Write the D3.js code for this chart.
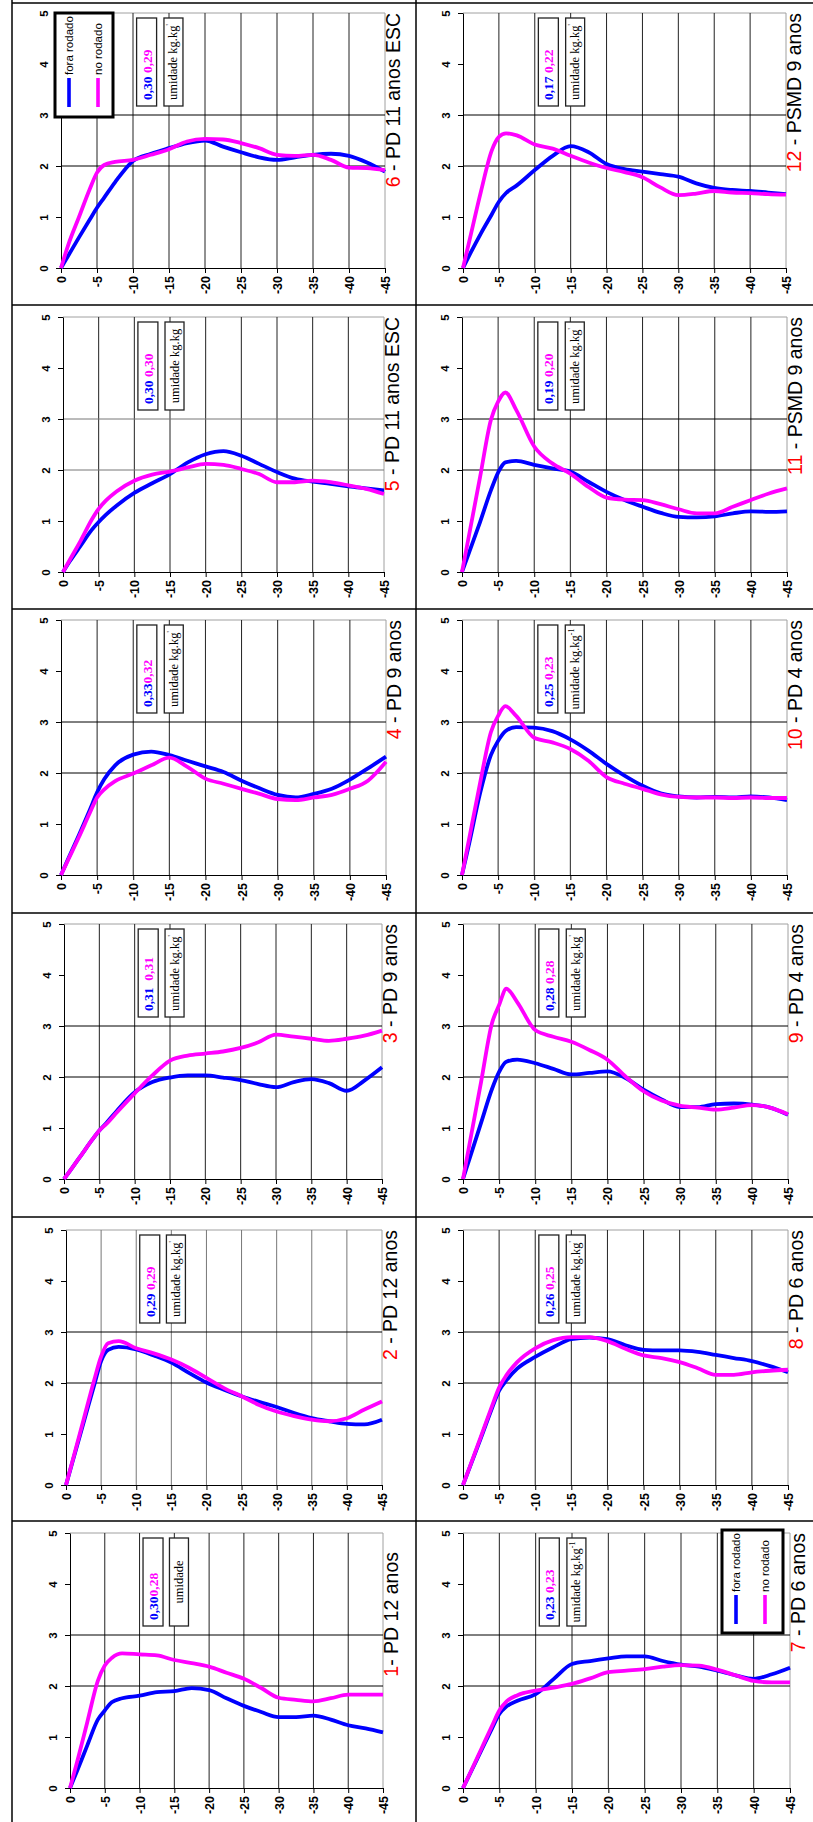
<!DOCTYPE html>
<html><head><meta charset="utf-8">
<script src="https://cdn.jsdelivr.net/npm/d3@7"></script>
<style>body{margin:0;background:#fff}svg{display:block}</style>
</head><body><svg id="c" width="813" height="1822"></svg>
<script>
// ---------- DATA ----------
const depths = [0,-1,-2.5,-4,-5,-6,-7.5,-10,-12.5,-15,-17.5,-20,-22.5,-25,-27.5,-30,-32.5,-35,-37.5,-40,-42.5,-45];
const depthTicks = [0,-5,-10,-15,-20,-25,-30,-35,-40,-45];
const depthTickLabels = ["0","-5","-10","-15","-20","-25","-30","-35","-40","-45"];
const valueTicks = [0,1,2,3,4,5];
const valueTickLabels = ["0","1","2","3","4","5"];
const legendLabels = ["fora rodado","no rodado"];

const panelNumbers = ["1","2","3","4","5","6","7","8","9","10","11","12"];
const panelNames = ["- PD 12 anos"," - PD 12 anos"," - PD 9 anos"," - PD 9 anos"," - PD 11 anos ESC"," - PD 11 anos ESC",
                    " - PD 6 anos"," - PD 6 anos"," - PD 4 anos"," - PD 4 anos"," - PSMD 9 anos"," - PSMD 9 anos"];
const moistFora = ["0,30","0,29","0,31","0,33","0,30","0,30","0,23","0,26","0,28","0,25","0,19","0,17"];
const moistNo   = ["0,28","0,29","0,31","0,32","0,30","0,29","0,23","0,25","0,28","0,23","0,20","0,22"];
const moistSep  = [""," ","  ",""," "," "," "," "," "," "," "," "];
const unitMain  = ["umidade","umidade kg.kg","umidade kg.kg","umidade kg.kg","umidade kg.kg","umidade kg.kg",
                   "umidade kg.kg","umidade kg.kg","umidade kg.kg","umidade kg.kg","umidade kg.kg","umidade kg.kg"];
const unitSup   = ["","'","'","'","","'","-1","'","'","-1","'","'"];

// series: fora rodado (blue) and no rodado (magenta), one value per depth
const fora1 = [0,0.33,0.84,1.34,1.52,1.68,1.76,1.81,1.88,1.9,1.96,1.92,1.76,1.61,1.49,1.39,1.39,1.42,1.34,1.23,1.17,1.09];
const no1   = [0,0.5,1.3,2.1,2.4,2.55,2.64,2.62,2.6,2.51,2.45,2.38,2.26,2.14,1.96,1.77,1.73,1.7,1.76,1.83,1.83,1.83];
const fora2 = [0,0.49,1.22,1.95,2.43,2.65,2.71,2.66,2.54,2.4,2.2,2.01,1.87,1.74,1.63,1.53,1.41,1.31,1.25,1.2,1.19,1.28];
const no2   = [0,0.51,1.28,2.05,2.52,2.78,2.82,2.68,2.58,2.46,2.3,2.1,1.9,1.74,1.57,1.44,1.35,1.28,1.25,1.31,1.48,1.64];
const fora3 = [0,0.19,0.48,0.77,0.95,1.1,1.34,1.7,1.9,1.99,2.03,2.03,1.99,1.94,1.86,1.8,1.9,1.96,1.88,1.73,1.93,2.19];
const no3   = [0,0.19,0.48,0.77,0.95,1.08,1.31,1.68,2.03,2.32,2.42,2.46,2.5,2.57,2.68,2.83,2.79,2.75,2.71,2.75,2.81,2.91];
const fora4 = [0,0.32,0.79,1.28,1.62,1.88,2.15,2.36,2.42,2.35,2.24,2.13,2.02,1.85,1.7,1.57,1.52,1.59,1.69,1.87,2.09,2.32];
const no4   = [0,0.3,0.75,1.22,1.52,1.68,1.84,1.99,2.15,2.3,2.12,1.89,1.79,1.69,1.59,1.49,1.47,1.52,1.57,1.69,1.85,2.22];
const fora5 = [0,0.22,0.52,0.82,0.98,1.12,1.3,1.55,1.74,1.92,2.15,2.31,2.37,2.28,2.12,1.96,1.83,1.77,1.73,1.68,1.64,1.6];
const no5   = [0,0.25,0.62,1.02,1.24,1.4,1.58,1.79,1.91,1.97,2.05,2.12,2.1,2.02,1.92,1.76,1.76,1.79,1.76,1.7,1.63,1.53];
const fora6 = [0,0.24,0.6,0.95,1.18,1.38,1.68,2.1,2.24,2.35,2.45,2.5,2.38,2.27,2.17,2.12,2.17,2.22,2.24,2.2,2.07,1.89];
const no6   = [0,0.45,1.0,1.55,1.87,2.02,2.08,2.12,2.22,2.33,2.48,2.53,2.52,2.45,2.35,2.22,2.2,2.22,2.12,1.97,1.96,1.92];
const fora7 = [0,0.29,0.73,1.17,1.45,1.6,1.71,1.84,2.14,2.43,2.49,2.54,2.58,2.58,2.49,2.42,2.38,2.3,2.21,2.14,2.23,2.36];
const no7   = [0,0.3,0.76,1.22,1.52,1.7,1.82,1.91,1.97,2.04,2.15,2.27,2.3,2.33,2.38,2.41,2.4,2.32,2.21,2.1,2.07,2.07];
const fora8 = [0,0.37,0.93,1.5,1.85,2.05,2.28,2.51,2.7,2.86,2.89,2.86,2.74,2.65,2.64,2.64,2.61,2.55,2.49,2.43,2.33,2.21];
const no8   = [0,0.38,0.96,1.54,1.91,2.15,2.41,2.68,2.84,2.9,2.9,2.82,2.67,2.54,2.49,2.41,2.29,2.16,2.16,2.21,2.24,2.26];
const fora9 = [0,0.44,1.1,1.76,2.1,2.3,2.34,2.27,2.16,2.05,2.08,2.11,1.98,1.75,1.56,1.41,1.41,1.47,1.48,1.46,1.4,1.26];
const no9   = [0,0.76,1.9,3.05,3.41,3.73,3.47,2.92,2.79,2.69,2.53,2.34,2.01,1.72,1.54,1.44,1.4,1.36,1.4,1.45,1.4,1.27];
const fora10= [0,0.62,1.6,2.35,2.63,2.82,2.9,2.89,2.82,2.66,2.44,2.18,1.95,1.75,1.6,1.54,1.52,1.53,1.52,1.54,1.52,1.47];
const no10  = [0,0.72,1.8,2.8,3.12,3.31,3.12,2.69,2.6,2.47,2.24,1.92,1.79,1.69,1.58,1.53,1.52,1.52,1.51,1.52,1.51,1.51];
const fora11= [0,0.39,0.98,1.6,1.95,2.15,2.18,2.1,2.03,1.97,1.77,1.57,1.41,1.28,1.16,1.08,1.07,1.09,1.15,1.19,1.18,1.19];
const no11  = [0,0.74,1.86,2.98,3.34,3.52,3.18,2.46,2.13,1.93,1.67,1.46,1.42,1.41,1.33,1.23,1.15,1.15,1.28,1.41,1.54,1.64];
const fora12= [0,0.28,0.68,1.05,1.3,1.47,1.62,1.92,2.2,2.39,2.27,2.04,1.94,1.89,1.84,1.79,1.66,1.57,1.53,1.51,1.48,1.45];
const no12  = [0,0.6,1.5,2.3,2.57,2.64,2.6,2.42,2.34,2.2,2.07,1.96,1.88,1.78,1.58,1.43,1.46,1.51,1.48,1.47,1.45,1.44];

const foraSeries = [fora1,fora2,fora3,fora4,fora5,fora6,fora7,fora8,fora9,fora10,fora11,fora12];
const noSeries   = [no1,no2,no3,no4,no5,no6,no7,no8,no9,no10,no11,no12];

// ---------- LAYOUT ----------
const BLUE = "#0000ff", MAG = "#ff00ff";
const rowTops = [13, 317, 620, 924, 1230, 1533];
const plotH = 255;
const leftX  = [[61,385],[63,384],[61,386],[64,382],[66,382],[70,383]];
const rightX = [[463,786],[462,787],[462,787],[463,788],[463,788],[463,790]];
const SANS = "'Liberation Sans', Arial, sans-serif";
const SERIF = "'Liberation Serif', 'Times New Roman', serif";

const svg = d3.select("#c");

// outer table frame
const frame = svg.append("g").attr("stroke","#000").attr("stroke-width",1.5);
[12,416].forEach(xv => frame.append("line").attr("x1",xv).attr("x2",xv).attr("y1",0).attr("y2",1822));
[3,305,609,913,1217,1521].forEach(yv => frame.append("line").attr("x1",12).attr("x2",813).attr("y1",yv).attr("y2",yv));

function drawPanel(i){
  const p = i+1;
  const isLeft = p <= 6;
  const row = isLeft ? 6-p : 12-p;
  const [x0,x1] = isLeft ? leftX[row] : rightX[row];
  const top = rowTops[row];
  const x = d3.scaleLinear().domain([0,-45]).range([x0,x1]);
  const y = d3.scaleLinear().domain([0,5]).range([top+plotH, top]);
  const g = svg.append("g");

  // plot frame (top & right, gray)
  g.append("line").attr("x1",x(0)).attr("x2",x(-45)).attr("y1",y(5)).attr("y2",y(5)).attr("stroke","#a0a0a0").attr("stroke-width",1);
  g.append("line").attr("x1",x(-45)).attr("x2",x(-45)).attr("y1",y(0)).attr("y2",y(5)).attr("stroke","#a0a0a0").attr("stroke-width",1);

  // vertical gridlines
  g.append("g").selectAll("line").data(depthTicks.slice(1,-1)).join("line")
    .attr("x1",d=>x(d)).attr("x2",d=>x(d)).attr("y1",y(0)).attr("y2",y(5))
    .attr("stroke", p===2 ? "#777" : "#222").attr("stroke-width",1);
  // horizontal gridlines at 2 and 3
  g.append("g").selectAll("line").data([2,3]).join("line")
    .attr("x1",x(0)).attr("x2",x(-45)).attr("y1",d=>y(d)).attr("y2",d=>y(d))
    .attr("stroke", (p===5) ? "#777" : "#000").attr("stroke-width",1);

  // axes
  const xa = g.append("g").attr("transform",`translate(0,${y(0)})`)
    .call(d3.axisBottom(x).tickValues(depthTicks).tickSize(5).tickSizeOuter(0)
      .tickFormat((d,k)=>depthTickLabels[k]));
  xa.selectAll("text").attr("transform","rotate(-90)").attr("x",-8).attr("y",0).attr("dy","0.36em")
    .attr("text-anchor","end").attr("font-family",SANS).attr("font-weight","bold").attr("font-size",12.5).attr("fill","#000");
  const ya = g.append("g").attr("transform",`translate(${x(0)},0)`)
    .call(d3.axisLeft(y).tickValues(valueTicks).tickSize(5).tickSizeOuter(0)
      .tickFormat((d,k)=>valueTickLabels[k]));
  ya.selectAll("text").attr("transform","rotate(-90)").attr("x",0).attr("y",-13).attr("dy",0)
    .attr("text-anchor","middle").attr("font-family",SANS).attr("font-weight","bold").attr("font-size",11.5).attr("fill","#000");
  g.selectAll(".domain, .tick line").attr("stroke","#000").attr("stroke-width",1);

  // curves
  const line = d3.line().x(d=>x(d[0])).y(d=>y(d[1])).curve(d3.curveMonotoneX);
  [[foraSeries[i],BLUE],[noSeries[i],MAG]].forEach(([vals,col])=>{
    g.append("path").datum(depths.map((dd,k)=>[dd,vals[k]]))
      .attr("d",line).attr("fill","none").attr("stroke",col).attr("stroke-width",3.8)
      .attr("stroke-linejoin","round").attr("stroke-linecap","butt");
  });

  // moisture box
  const bTop = top + 5, bH = 88;
  const b1x = x(-10.5), b2x = x(-14.3);
  g.append("rect").attr("x",b1x).attr("y",bTop).attr("width",20).attr("height",bH)
    .attr("fill","#fff").attr("stroke","#222").attr("stroke-width",1.3);
  const t1 = g.append("text").attr("transform",`translate(${b1x+15},${bTop+bH-6}) rotate(-90)`)
    .attr("text-anchor","start").attr("font-family",SERIF).attr("font-weight","bold").attr("font-size",13.5);
  t1.append("tspan").attr("fill",BLUE).text(moistFora[i]);
  t1.append("tspan").attr("fill",MAG).attr("xml:space","preserve").text(moistSep[i] + moistNo[i]);

  g.append("rect").attr("x",b2x).attr("y",bTop).attr("width",19).attr("height",bH)
    .attr("fill","#fff").attr("stroke","#222").attr("stroke-width",1.3);
  const t2 = g.append("text").attr("transform",`translate(${b2x+13.5},${bTop+bH/2}) rotate(-90)`)
    .attr("text-anchor","middle").attr("font-family",SERIF).attr("font-size",12.5).attr("fill","#000");
  t2.append("tspan").text(unitMain[i]);
  if (unitSup[i]) t2.append("tspan").attr("dy",-5).attr("font-size",8).text(unitSup[i]);

  // title
  const tShift = p===1 ? 19 : 0;
  const tt = g.append("text").attr("transform",`translate(${x1+15},${top+tShift}) rotate(-90)`)
    .attr("text-anchor","end").attr("font-family",SANS).attr("font-size",19.5);
  tt.append("tspan").attr("fill","#ff0000").text(panelNumbers[i]);
  tt.append("tspan").attr("fill","#000").attr("xml:space","preserve").text(panelNames[i]);

  // legend
  if (p===6 || p===7){
    const lw = p===6 ? 58 : 61, lh = p===6 ? 104 : 103;
    const lx = p===6 ? x0-6 : x1-7-lw;
    const ly = p===6 ? top : top-3;
    const lg = g.append("g");
    lg.append("rect").attr("x",lx).attr("y",ly).attr("width",lw).attr("height",lh)
      .attr("fill","#fff").attr("stroke","#000").attr("stroke-width",3);
    [BLUE,MAG].forEach((col,k)=>{
      const cx = lx + 14 + k*29;
      lg.append("line").attr("x1",cx).attr("x2",cx).attr("y1",ly+65).attr("y2",ly+94)
        .attr("stroke",col).attr("stroke-width",3.6);
      lg.append("text").attr("transform",`translate(${cx+4},${ly+62}) rotate(-90)`)
        .attr("text-anchor","start").attr("font-family",SANS).attr("font-size",11.5).attr("fill","#000")
        .text(legendLabels[k]);
    });
  }
}
for (let i=0;i<12;i++) drawPanel(i);
</script></body></html>
